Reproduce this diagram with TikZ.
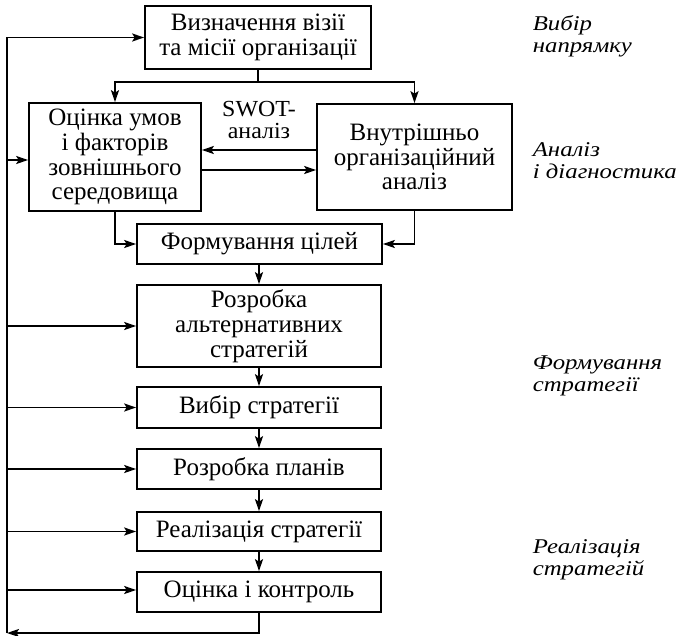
\documentclass[tikz,border=0pt]{standalone}
\usepackage{fontspec}
\setmainfont{Liberation Serif}
\newfontfamily\capfont[FakeStretch=1.18]{Liberation Serif}
\newfontfamily\swotfont[FakeStretch=1.04]{Liberation Serif}
\usetikzlibrary{arrows.meta}
\begin{document}
\begin{tikzpicture}[
  x=1pt, y=-1pt,
  line width=1.7pt,
  >={Stealth[length=12pt,width=8pt,inset=2.5pt]},
  box/.style={draw, line width=1.7pt, inner sep=0pt, align=center,
    font=\fontsize{25}{24.8}\selectfont},
  stage/.style={anchor=west, align=left, inner sep=0pt,
    font=\capfont\fontsize{21}{22}\selectfont\itshape},
]
\useasboundingbox (0,0) rectangle (680,635);

% main blocks
\node[box, minimum width=226pt, minimum height=63pt] (b1) at (258,37.5)
  {Визначення візії\\та місії організації};
\node[box, minimum width=172pt, minimum height=108pt] (b2) at (115,157)
  {Оцінка умов\\і факторів\\зовнішнього\\середовища};
\node[box, minimum width=195pt, minimum height=106pt] (b3) at (414.5,157)
  {Внутрішньо\\організаційний\\аналіз};
\node[box, minimum width=245pt, minimum height=40pt] (b4) at (259.5,244)
  {Формування цілей};
\node[box, minimum width=244pt, minimum height=82pt] (b5) at (259,326)
  {Розробка\\альтернативних\\стратегій};
\node[box, minimum width=244pt, minimum height=41pt] (b6) at (259,407.5)
  {Вибір стратегії};
\node[box, minimum width=244pt, minimum height=40pt] (b7) at (259,469)
  {Розробка планів};
\node[box, minimum width=244pt, minimum height=39pt] (b8) at (259,531.5)
  {Реалізація стратегії};
\node[box, minimum width=244pt, minimum height=40pt] (b9) at (259,592)
  {Оцінка і контроль};

\node[align=center, inner sep=0pt, font=\swotfont\fontsize{23}{22.5}\selectfont] (swot) at (259,120)
  {SWOT-\\аналіз};

% stage captions
\node[stage] (s1) at (532,36) {Вибір\\напрямку};
\node[stage] (s2) at (532,161) {Аналіз\\і діагностика};
\node[stage] (s3) at (532,376) {Формування\\стратегії};
\node[stage] (s4) at (532,560) {Реалізація\\стратегій};

% connections between blocks
\coordinate (j1) at (258,82);
\draw (b1.south) -- (j1);
\draw[->] (j1) -| (b2.north);
\draw[->] (j1) -| (b3.north);
\draw[->] (b3.west |- 0,150) -- (b2.east |- 0,150);
\draw[->] (b2.east |- 0,170) -- (b3.west |- 0,170);
\draw[->] (b2.south) |- (b4.west);
\draw[->] (b3.south) |- (b4.east);
\draw[->] (b4.south -| b5.north) -- (b5.north);
\draw[->] (b5.south) -- (b6.north);
\draw[->] (b6.south) -- (b7.north);
\draw[->] (b7.south) -- (b8.north);
\draw[->] (b8.south) -- (b9.north);

% feedback loop
\coordinate (c) at (7,633);
\draw[->] (b9.south) |- (c);
\draw[->] (c) |- (b1.west);
\draw[->] (c |- 0,160) -- (b2.west |- 0,160);
\draw[->] (c |- b5.west) -- (b5.west);
\draw[->] (c |- b6.west) -- (b6.west);
\draw[->] (c |- b7.west) -- (b7.west);
\draw[->] (c |- b8.west) -- (b8.west);
\draw[->] (c |- 0,590) -- (b9.west |- 0,590);
\end{tikzpicture}
\end{document}
